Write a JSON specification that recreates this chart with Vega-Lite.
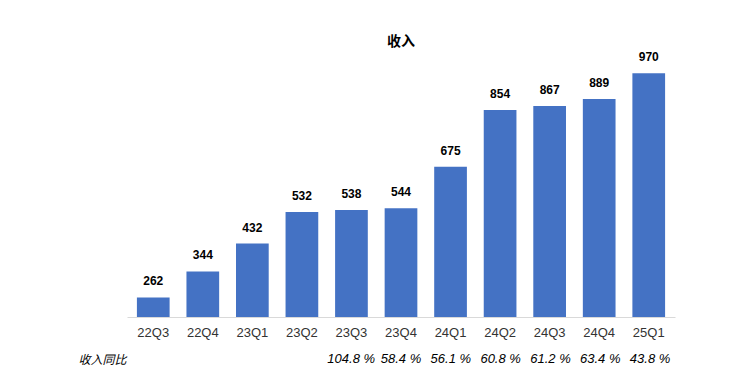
{
  "$schema": "https://vega.github.io/schema/vega-lite/v6.json",
  "padding": {"left": 77, "top": 35, "right": 40, "bottom": 5},
  "background": "white",
  "spacing": 10,
  "config": {"font": "Liberation Sans", "view": {"stroke": null}},
  "data": {
    "values": [
      {"q": "22Q3", "rev": 262, "yoy": null, "metric": "收入同比"},
      {"q": "22Q4", "rev": 344, "yoy": null, "metric": "收入同比"},
      {"q": "23Q1", "rev": 432, "yoy": null, "metric": "收入同比"},
      {"q": "23Q2", "rev": 532, "yoy": null, "metric": "收入同比"},
      {"q": "23Q3", "rev": 538, "yoy": 104.8, "metric": "收入同比"},
      {"q": "23Q4", "rev": 544, "yoy": 58.4, "metric": "收入同比"},
      {"q": "24Q1", "rev": 675, "yoy": 56.1, "metric": "收入同比"},
      {"q": "24Q2", "rev": 854, "yoy": 60.8, "metric": "收入同比"},
      {"q": "24Q3", "rev": 867, "yoy": 61.2, "metric": "收入同比"},
      {"q": "24Q4", "rev": 889, "yoy": 63.4, "metric": "收入同比"},
      {"q": "25Q1", "rev": 970, "yoy": 43.8, "metric": "收入同比"}
    ]
  },
  "vconcat": [
    {
      "width": 548,
      "height": 250,
      "title": {"text": "收入", "font": "Noto Sans CJK SC", "fontSize": 14, "fontWeight": "bold", "offset": 2, "color": "#000"},
      "encoding": {
        "x": {
          "field": "q", "type": "ordinal", "sort": null,
          "scale": {"domain": ["22Q3","22Q4","23Q1","23Q2","23Q3","23Q4","24Q1","24Q2","24Q3","24Q4","25Q1"], "paddingInner": 0.34, "paddingOuter": 0.2},
          "axis": {"title": null, "labelAngle": 0, "domain": true, "domainColor": "#D9D9D9", "domainWidth": 1, "ticks": false, "labelPadding": 9, "labelFontSize": 13, "labelColor": "#333"}
        },
        "y": {"field": "rev", "type": "quantitative", "scale": {"domain": [200, 990], "zero": false}, "axis": null}
      },
      "layer": [
        {"mark": {"type": "bar", "color": "#4472C4", "clip": true}},
        {"mark": {"type": "text", "baseline": "alphabetic", "dy": -12, "fontWeight": "bold", "fontSize": 12, "color": "#000"}, "encoding": {"text": {"field": "rev", "type": "quantitative"}}}
      ]
    },
    {
      "width": 548,
      "height": 20,
      "transform": [
        {"filter": "datum.yoy != null"},
        {"calculate": "format(datum.yoy, '.1f') + ' %'", "as": "lab"}
      ],
      "mark": {"type": "text", "fontStyle": "italic", "fontSize": 13, "color": "#000"},
      "encoding": {
        "x": {
          "field": "q", "type": "ordinal", "sort": null,
          "scale": {"domain": ["22Q3","22Q4","23Q1","23Q2","23Q3","23Q4","24Q1","24Q2","24Q3","24Q4","25Q1"], "paddingInner": 0.34, "paddingOuter": 0.2},
          "axis": null
        },
        "y": {"field": "metric", "type": "nominal", "axis": {"title": null, "domain": false, "ticks": false, "labelPadding": 1, "labelFontSize": 12, "labelFontStyle": "italic", "labelFont": "Noto Sans CJK SC", "labelColor": "#000"}},
        "text": {"field": "lab"}
      }
    }
  ]
}
